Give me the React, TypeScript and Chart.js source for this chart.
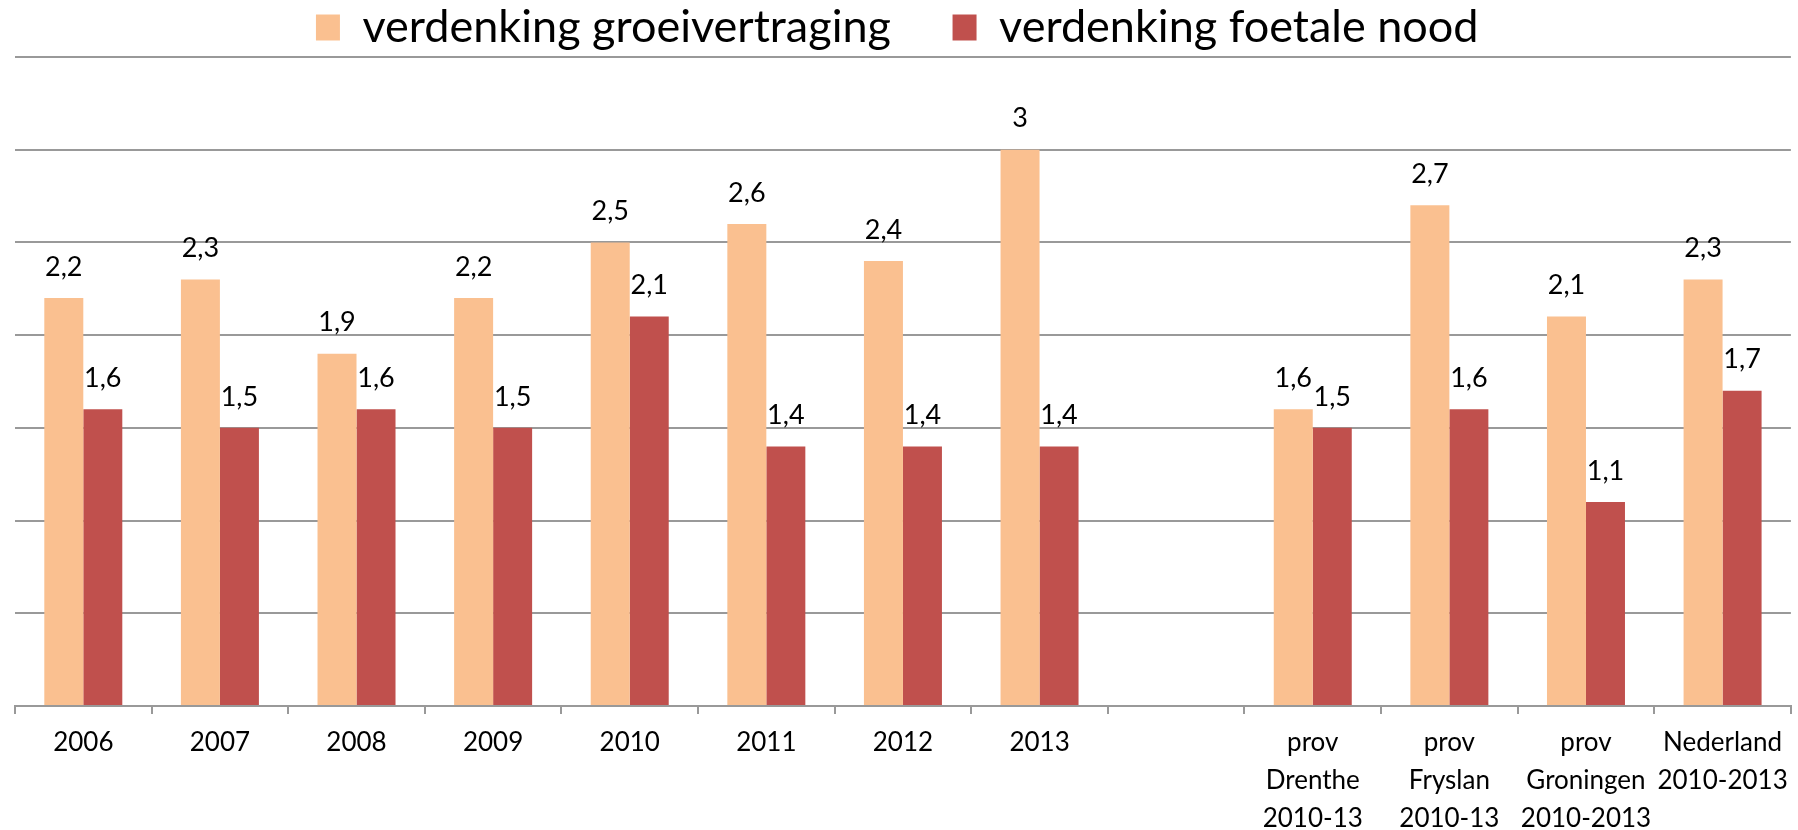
import React, { useEffect, useRef } from "react";
import { Chart, registerables } from "chart.js";

Chart.register(...registerables);

const categories: (string | string[])[] = [
  "2006",
  "2007",
  "2008",
  "2009",
  "2010",
  "2011",
  "2012",
  "2013",
  "",
  ["prov", "Drenthe", "2010-13"],
  ["prov", "Fryslan", "2010-13"],
  ["prov", "Groningen", "2010-2013"],
  ["Nederland", "2010-2013"],
];

const groeivertraging: (number | null)[] = [2.2, 2.3, 1.9, 2.2, 2.5, 2.6, 2.4, 3, null, 1.6, 2.7, 2.1, 2.3];
const foetaleNood: (number | null)[] = [1.6, 1.5, 1.6, 1.5, 2.1, 1.4, 1.4, 1.4, null, 1.5, 1.6, 1.1, 1.7];

const seriesNames = ["verdenking groeivertraging", "verdenking foetale nood"];
const seriesColors = ["#FAC090", "#C0504D"];

const FONT = "Lato, 'Liberation Sans', Arial, sans-serif";

const dataLabelPlugin = {
  id: "dataLabels",
  afterDatasetsDraw(chart: any) {
    const ctx = chart.ctx;
    ctx.save();
    ctx.font = `27px ${FONT}`;
    ctx.fillStyle = "#000";
    ctx.textAlign = "center";
    ctx.textBaseline = "middle";
    chart.data.datasets.forEach((ds: any, di: number) => {
      const meta = chart.getDatasetMeta(di);
      meta.data.forEach((el: any, i: number) => {
        const v = ds.data[i];
        if (v === null || v === undefined) return;
        ctx.fillText(String(v).replace(".", ","), el.x, el.y - 31);
      });
    });
    ctx.restore();
  },
};

export default function App() {
  const ref = useRef<HTMLCanvasElement>(null);

  useEffect(() => {
    document.body.style.margin = "0";
    const canvas = ref.current;
    if (!canvas) return;
    const chart = new Chart(canvas, {
      type: "bar",
      data: {
        labels: categories,
        datasets: [
          {
            label: seriesNames[0],
            data: groeivertraging,
            backgroundColor: seriesColors[0],
            categoryPercentage: 0.571,
            barPercentage: 1,
          },
          {
            label: seriesNames[1],
            data: foetaleNood,
            backgroundColor: seriesColors[1],
            categoryPercentage: 0.571,
            barPercentage: 1,
          },
        ],
      },
      options: {
        responsive: false,
        animation: false,
        layout: { padding: { left: 15, right: 7, top: 1, bottom: 0 } },
        plugins: {
          tooltip: { enabled: false },
          legend: {
            position: "top",
            maxHeight: 56,
            labels: {
              boxWidth: 24,
              boxHeight: 26,
              padding: 4,
              color: "#000",
              font: { family: FONT, size: 45 },
              generateLabels: (chart: any) => {
                const items = Chart.defaults.plugins.legend.labels.generateLabels(chart);
                if (items[0]) items[0].text = items[0].text + "     ";
                if (items[1]) items[1].text = items[1].text + " ";
                return items;
              },
            },
          },
        },
        scales: {
          x: {
            offset: true,
            grid: {
              offset: true,
              drawOnChartArea: false,
              drawTicks: true,
              tickLength: 8,
              color: "#999999",
              lineWidth: 2,
            },
            border: { display: true, color: "#999999", width: 2 },
            ticks: {
              padding: 10,
              color: "#000",
              autoSkip: false,
              maxRotation: 0,
              font: { family: FONT, size: 26, lineHeight: 1.45 },
            },
            afterFit: (scale: any) => {
              scale.height = 124;
            },
          },
          y: {
            min: 0,
            max: 3.5,
            ticks: { display: false, stepSize: 0.5 },
            border: { display: false },
            grid: { color: "#999999", lineWidth: 2, drawTicks: false },
          },
        },
      },
      plugins: [dataLabelPlugin],
    });
    return () => chart.destroy();
  }, []);

  return (
    <div style={{ width: 1798, height: 830 }}>
      <canvas ref={ref} width={1798} height={830} style={{ display: "block" }} />
    </div>
  );
}
